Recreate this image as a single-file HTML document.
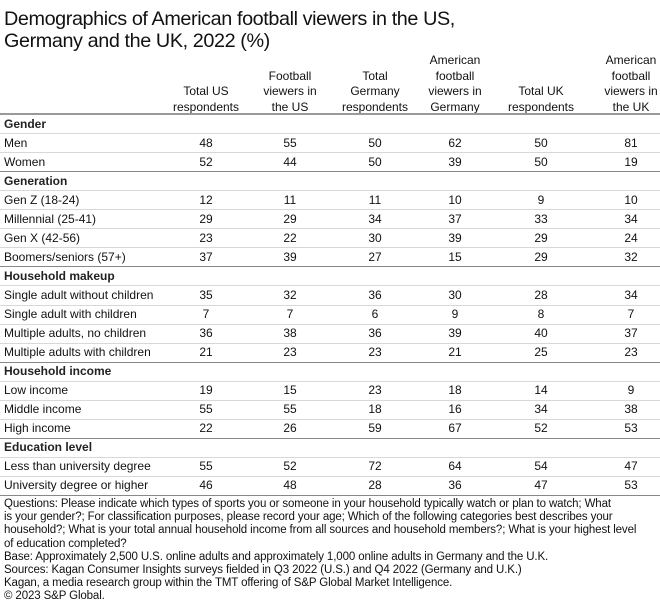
<!DOCTYPE html>
<html><head><meta charset="utf-8"><style>
body{margin:0;width:660px;height:614px;background:#fff;font-family:"Liberation Sans",sans-serif;color:#111;position:relative;overflow:hidden}
.t{position:absolute;left:4px;top:8px;font-size:19.8px;line-height:22px;color:#111;letter-spacing:-0.4px}
.h{position:absolute;top:53px;font-size:12px;line-height:15.5px;text-align:center;width:90px;transform:translateX(-50%)}
.row{position:absolute;left:0;width:660px;height:19px;font-size:12px;line-height:19px}
.row span{position:absolute}
.lab{left:4px}
.v{transform:translateX(-50%)}
.grp{font-weight:bold;color:#222}
.ln{position:absolute;left:0;width:660px;height:1px;background:#d8d8d8}
.ln.g{background:#888}
.ln.hd{height:2px;background:#999}
.f{position:absolute;left:4px;top:498px;font-size:11.5px;line-height:13.2px;width:656px;white-space:nowrap;letter-spacing:-0.12px}
</style></head><body>
<div class="t">Demographics of American football viewers in the US,<br>Germany and the UK, 2022 (%)</div>
<div id="tbl"></div>
<div class="f">Questions: Please indicate which types of sports you or someone in your household typically watch or plan to watch; What<br>is your gender?; For classification purposes, please record your age; Which of the following categories best describes your<br>household?; What is your total annual household income from all sources and household members?; What is your highest level<br>of education completed?<br>Base: Approximately 2,500 U.S. online adults and approximately 1,000 online adults in Germany and the U.K.<br>Sources: Kagan Consumer Insights surveys fielded in Q3 2022 (U.S.) and Q4 2022 (Germany and U.K.)<br>Kagan, a media research group within the TMT offering of S&amp;P Global Market Intelligence.<br>© 2023 S&amp;P Global.</div>
<script>
const columns=["<br><br>Total US<br>respondents","<br>Football<br>viewers in<br>the US","<br>Total<br>Germany<br>respondents","American<br>football<br>viewers in<br>Germany","<br><br>Total UK<br>respondents","American<br>football<br>viewers in<br>the UK"];
const colX=[206,290,375,455,541,631];
const groups=["Gender","Generation","Household makeup","Household income","Education level"];
const rowLabels=[["Men","Women"],["Gen Z (18-24)","Millennial (25-41)","Gen X (42-56)","Boomers/seniors (57+)"],["Single adult without children","Single adult with children","Multiple adults, no children","Multiple adults with children"],["Low income","Middle income","High income"],["Less than university degree","University degree or higher"]];
const values=[[[48,55,50,62,50,81],[52,44,50,39,50,19]],[[12,11,11,10,9,10],[29,29,34,37,33,34],[23,22,30,39,29,24],[37,39,27,15,29,32]],[[35,32,36,30,28,34],[7,7,6,9,8,7],[36,38,36,39,40,37],[21,23,23,21,25,23]],[[19,15,23,18,14,9],[55,55,18,16,34,38],[22,26,59,67,52,53]],[[55,52,72,64,54,47],[46,48,28,36,47,53]]];
const T=document.getElementById('tbl');
columns.forEach((c,i)=>{const d=document.createElement('div');d.className='h';d.style.left=colX[i]+'px';d.innerHTML=c;


T.appendChild(d);});
let y=114;const RH=19.05;
function line(cls,yy){const l=document.createElement('div');l.className='ln '+cls;l.style.top=Math.round(yy)+'px';


T.appendChild(l);}
line('hd',y-1);
groups.forEach((g,gi)=>{
 if(gi>0)line('g',y);
 const r=document.createElement('div');r.className='row';r.style.top=(y+0.5)+'px';
 
 
 r.innerHTML='<span class="lab grp">'+g+'</span>';T.appendChild(r);y+=RH;
 rowLabels[gi].forEach((lab,ri)=>{
  line('',y);
  const rr=document.createElement('div');rr.className='row';rr.style.top=(y+0.5)+'px';
  
  
  let h='<span class="lab">'+lab+'</span>';
  values[gi][ri].forEach((v,ci)=>{h+='<span class="v" style="left:'+colX[ci]+'px">'+v+'</span>';});
  rr.innerHTML=h;T.appendChild(rr);y+=RH;
 });
});
line('g',y);
</script>
</body></html>
